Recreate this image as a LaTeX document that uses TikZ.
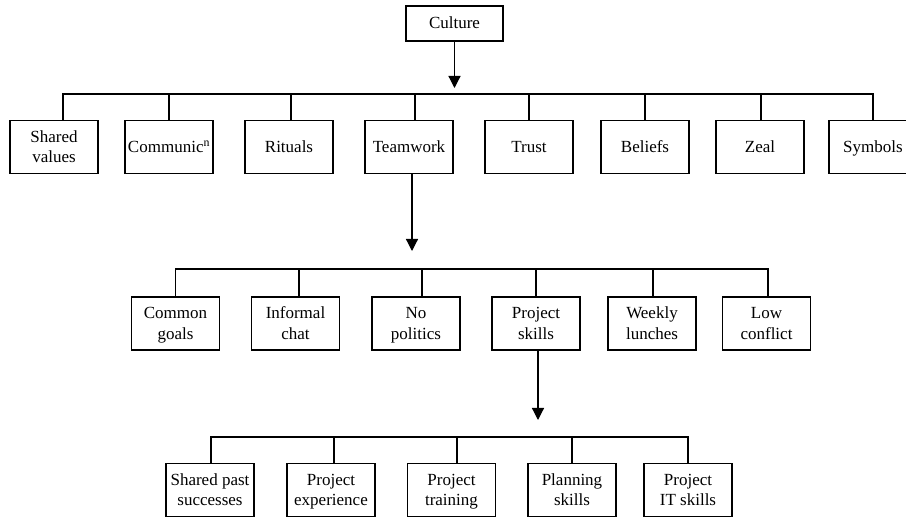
\documentclass[tikz,border=0pt]{standalone}
\usepackage{fontspec}
\setmainfont{Liberation Serif}
\usetikzlibrary{arrows.meta}
\newcommand{\mystrut}{\rule[-4pt]{0pt}{19pt}}
\begin{document}
\begin{tikzpicture}[x=1pt,y=-1pt,
  box/.style={draw,line width=1.2pt,minimum width=88pt,minimum height=53pt,inner sep=0pt,align=center,font=\fontsize{17}{20.5}\selectfont},
  link/.style={line width=1.2pt},
  arr/.style={line width=1.2pt,-{Triangle[length=12pt,width=12pt]}}]
\clip (0,0) rectangle (906,518);
% top
\node[box,minimum width=97pt,minimum height=35pt] (cul) at (454.5,23.5) {\mystrut Culture};
% level 1
\node[box] (sv)  at (54,147)  {\mystrut Shared\\\mystrut values};
\node[box] (com) at (169,147) {\mystrut Communic\textsuperscript{n}};
\node[box] (rit) at (289,147) {\mystrut Rituals};
\node[box] (tw)  at (409,147) {\mystrut Teamwork};
\node[box] (tru) at (529,147) {\mystrut Trust};
\node[box] (bel) at (645,147) {\mystrut Beliefs};
\node[box] (zea) at (760,147) {\mystrut Zeal};
\node[box] (sym) at (873,147) {\mystrut Symbols};
% level 2
\node[box] (cg) at (175.5,323.5) {\mystrut Common\\\mystrut goals};
\node[box] (ic) at (295.5,323.5) {\mystrut Informal\\\mystrut chat};
\node[box] (np) at (416,323.5)   {\mystrut No\\\mystrut politics};
\node[box] (ps) at (536,323.5)   {\mystrut Project\\\mystrut skills};
\node[box] (wl) at (652,323.5)   {\mystrut Weekly\\\mystrut lunches};
\node[box] (lc) at (766.5,323.5) {\mystrut Low\\\mystrut conflict};
% level 3
\node[box] (sp) at (210,490)   {\mystrut Shared past\\\mystrut successes};
\node[box] (pe) at (331,490)   {\mystrut Project\\\mystrut experience};
\node[box] (pt) at (451.5,490) {\mystrut Project\\\mystrut training};
\node[box] (pl) at (572,490)   {\mystrut Planning\\\mystrut skills};
\node[box] (it) at (688,490)   {\mystrut Project\\\mystrut IT skills};
% buses and arrow ends
\coordinate (bus1) at (454.5,94);
\coordinate (bus2) at (412,269);
\coordinate (bus3) at (538,437);
\coordinate (tip1) at (454.5,88);
\coordinate (tip2) at (412,251);
\coordinate (tip3) at (538,420);
% arrows
\draw[arr] (cul.south) -- (tip1);
\draw[arr] ([xshift=3pt]tw.south) -- (tip2);
\draw[arr] ([xshift=2pt]ps.south) -- (tip3);
% level 1 connectors
\draw[link] ([xshift=9pt]sv.north) |- (bus1) -| (sym.north);
\draw[link] (com.north) -- (com.north |- bus1);
\draw[link] ([xshift=2pt]rit.north) -- ([xshift=2pt]rit.north |- bus1);
\draw[link] ([xshift=6pt]tw.north) -- ([xshift=6pt]tw.north |- bus1);
\draw[link] (tru.north) -- (tru.north |- bus1);
\draw[link] (bel.north) -- (bel.north |- bus1);
\draw[link] ([xshift=1pt]zea.north) -- ([xshift=1pt]zea.north |- bus1);
% level 2 connectors
\draw[link] (cg.north) |- (bus2) -| ([xshift=1.5pt]lc.north);
\draw[link] ([xshift=3.5pt]ic.north) -- ([xshift=3.5pt]ic.north |- bus2);
\draw[link] ([xshift=6pt]np.north) -- ([xshift=6pt]np.north |- bus2);
\draw[link] (ps.north) -- (ps.north |- bus2);
\draw[link] ([xshift=1pt]wl.north) -- ([xshift=1pt]wl.north |- bus2);
% level 3 connectors
\draw[link] ([xshift=1pt]sp.north) |- (bus3) -| (it.north);
\draw[link] ([xshift=3pt]pe.north) -- ([xshift=3pt]pe.north |- bus3);
\draw[link] ([xshift=5.5pt]pt.north) -- ([xshift=5.5pt]pt.north |- bus3);
\draw[link] (pl.north) -- (pl.north |- bus3);
\end{tikzpicture}
\end{document}
